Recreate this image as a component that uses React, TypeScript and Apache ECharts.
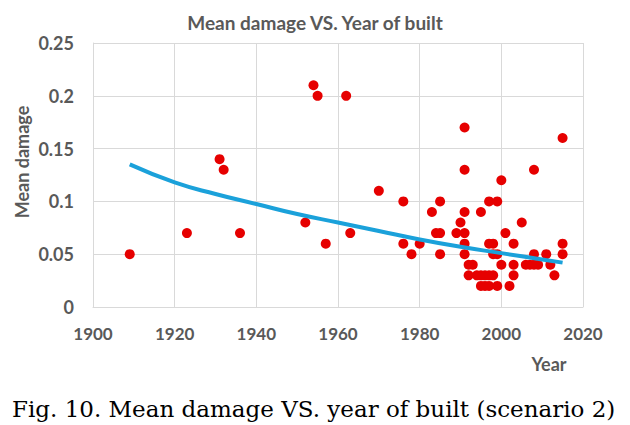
import React, { useEffect, useRef } from "react";
import * as echarts from "echarts";

const pointYears = [
  1909, 1923, 1931, 1932, 1936, 1952, 1954, 1955, 1957, 1962, 1963, 1970,
  1976, 1976, 1978, 1980, 1983, 1984, 1985, 1985, 1985, 1989, 1990,
  1991, 1991, 1991, 1991, 1991, 1991, 1992, 1993, 1992, 1994, 1995, 1996,
  1997, 1998, 1995, 1996, 1997, 1995, 1997, 1997, 1998, 1998, 1999, 1999,
  1999, 2000, 2000, 2001, 2002, 2003, 2003, 2003, 2005, 2006, 2007, 2008,
  2009, 2008, 2008, 2011, 2012, 2013, 2015, 2015, 2015,
];
const pointValues = [
  0.05, 0.07, 0.14, 0.13, 0.07, 0.08, 0.21, 0.2, 0.06, 0.2, 0.07, 0.11,
  0.1, 0.06, 0.05, 0.06, 0.09, 0.07, 0.07, 0.1, 0.05, 0.07, 0.08,
  0.17, 0.13, 0.09, 0.07, 0.06, 0.05, 0.04, 0.04, 0.03, 0.03, 0.03, 0.03,
  0.03, 0.03, 0.02, 0.02, 0.02, 0.09, 0.1, 0.06, 0.06, 0.05, 0.05, 0.1,
  0.02, 0.12, 0.04, 0.07, 0.02, 0.06, 0.04, 0.03, 0.08, 0.04, 0.04, 0.04,
  0.04, 0.13, 0.05, 0.05, 0.04, 0.03, 0.16, 0.06, 0.05,
];

const trendYears = [1909, 1920, 1930, 1940, 1950, 1960, 1970, 1980, 1990, 2000, 2010, 2015];
const trendValues = [0.135, 0.118, 0.107, 0.0975, 0.088, 0.08, 0.072, 0.064, 0.057, 0.051, 0.045, 0.042];

const titleText = "Mean damage VS. Year of built";
const yAxisTitle = "Mean damage";
const xAxisTitle = "Year";
const captionText = "Fig. 10. Mean damage VS. year of built (scenario 2)";

const grey = "#595959";
const gridGrey = "#d9d9d9";

export default function App() {
  const ref = useRef<HTMLDivElement>(null);
  useEffect(() => {
    document.body.style.margin = "0";
    const chart = echarts.init(ref.current!, null, { renderer: "svg" });
    const scatterData = pointYears.map((y, i) => [y, pointValues[i]]);
    const trendData = trendYears.map((y, i) => [y, trendValues[i]]);
    chart.setOption({
      animation: false,
      backgroundColor: "#ffffff",
      title: {
        text: titleText,
        left: "center",
        top: 8,
        textStyle: { fontFamily: "Lato", fontWeight: "bold", fontSize: 19, color: grey },
      },
      grid: { left: 93, right: 47, top: 43, bottom: 118 },
      xAxis: {
        type: "value",
        min: 1900,
        max: 2020,
        interval: 20,
        axisLine: { show: true, lineStyle: { color: gridGrey } },
        axisTick: { show: false },
        splitLine: { show: true, lineStyle: { color: gridGrey } },
        axisLabel: {
          margin: 18,
          fontFamily: "Lato",
          fontWeight: "bold",
          fontSize: 17,
          color: grey,
          formatter: (v: number) => String(v),
        },
      },
      yAxis: {
        type: "value",
        min: 0,
        max: 0.25,
        interval: 0.05,
        axisLine: { show: true, lineStyle: { color: gridGrey } },
        axisTick: { show: false },
        splitLine: { show: true, lineStyle: { color: gridGrey } },
        axisLabel: {
          margin: 19,
          fontFamily: "Lato",
          fontWeight: "bold",
          fontSize: 18,
          color: grey,
          formatter: (v: number) => String(Math.round(v * 100) / 100),
        },
      },
      series: [
        {
          type: "scatter",
          data: scatterData,
          symbol: "circle",
          symbolSize: 10,
          itemStyle: { color: "#e60000", opacity: 1 },
          z: 2,
        },
        {
          type: "line",
          data: trendData,
          smooth: true,
          showSymbol: false,
          symbol: "none",
          lineStyle: { color: "#1ba1da", width: 4 },
          z: 3,
        },
      ],
      graphic: [
        {
          type: "text",
          x: 22,
          y: 162,
          rotation: Math.PI / 2,
          style: {
            text: yAxisTitle,
            fontFamily: "Lato",
            fontWeight: "bold",
            fontSize: 18,
            fill: grey,
            textAlign: "center",
            textVerticalAlign: "middle",
          },
        },
        {
          type: "text",
          x: 549,
          y: 364,
          style: {
            text: xAxisTitle,
            fontFamily: "Lato",
            fontWeight: "bold",
            fontSize: 18,
            fill: grey,
            textAlign: "center",
            textVerticalAlign: "middle",
          },
        },
        {
          type: "text",
          x: 12,
          y: 409,
          style: {
            text: captionText,
            fontFamily: "DejaVu Serif",
            fontSize: 23,
            fill: "#000000",
            textAlign: "left",
            textVerticalAlign: "middle",
          },
        },
      ],
    });
    return () => chart.dispose();
  }, []);
  return <div ref={ref} style={{ width: 630, height: 425 }} />;
}
